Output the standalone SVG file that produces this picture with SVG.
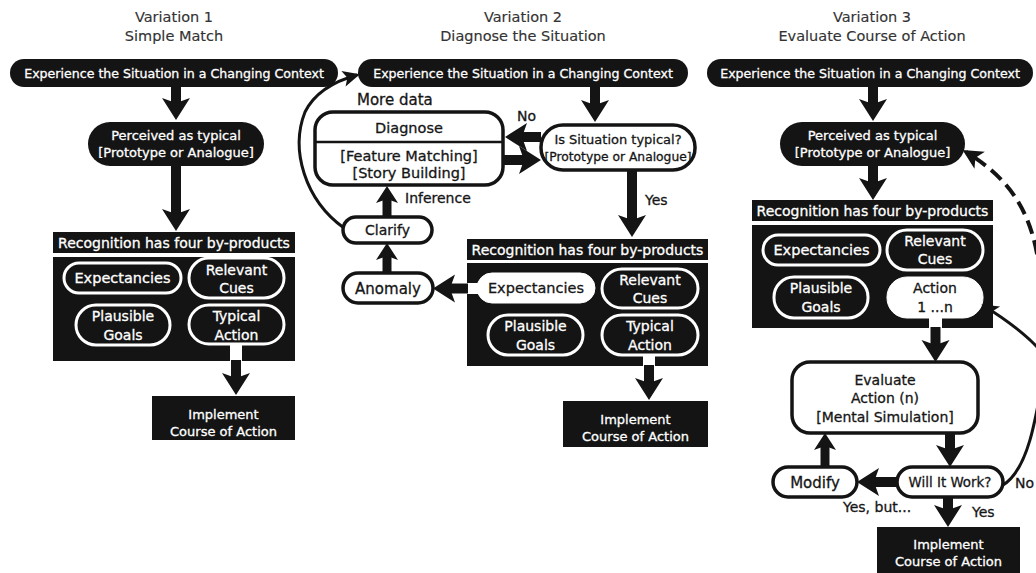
<svg xmlns="http://www.w3.org/2000/svg" width="1036" height="573" viewBox="0 0 1036 573">
<style>
text{font-family:"DejaVu Sans","Liberation Sans",sans-serif;font-size:13px;text-anchor:middle;fill:#161616;stroke:#161616;stroke-width:0.3}
.lbl{font-size:14px;text-anchor:start}
.m{font-size:14px}
.x{font-size:14.5px}
.xl{font-size:15px}
.e{font-size:12.6px}
.ttl{font-size:14.5px;fill:#333;stroke:#333;stroke-width:0.15}
.wt{fill:#fff;stroke:#fff}
.blk{fill:#141414}
.wp{fill:#141414;stroke:#fff;stroke-width:3}
.wf{fill:#fff;stroke:#fff;stroke-width:1}
.bp{fill:#fff;stroke:#141414;stroke-width:3.5}
.sh{stroke:#141414;stroke-width:10;fill:none;marker-end:url(#ah)}
.ss{stroke:#141414;stroke-width:9;fill:none;marker-end:url(#as)}
.th{stroke:#141414;stroke-width:3;fill:none;marker-end:url(#at)}
.dash{stroke:#141414;stroke-width:4;fill:none;stroke-dasharray:14 7;marker-end:url(#at2)}
</style>
<defs>
<marker id="ah" markerUnits="userSpaceOnUse" markerWidth="30" markerHeight="30" viewBox="0 -15 30 30" refX="7" refY="0" orient="auto" overflow="visible"><path d="M0,-14 L22,0 L0,14 L5,0 Z" fill="#141414"/></marker>
<marker id="as" markerUnits="userSpaceOnUse" markerWidth="24" markerHeight="24" viewBox="0 -12 24 24" refX="6" refY="0" orient="auto" overflow="visible"><path d="M0,-11 L17,0 L0,11 L4,0 Z" fill="#141414"/></marker>
<marker id="at" markerUnits="userSpaceOnUse" markerWidth="20" markerHeight="20" viewBox="0 -10 20 20" refX="14" refY="0" orient="auto" overflow="visible"><path d="M0,-8 L17,0 L0,8 L4,0 Z" fill="#141414"/></marker>
<marker id="at2" markerUnits="userSpaceOnUse" markerWidth="24" markerHeight="24" viewBox="0 -12 24 24" refX="16" refY="0" orient="auto" overflow="visible"><path d="M0,-10 L20,0 L0,10 L5,0 Z" fill="#141414"/></marker>
</defs>

<!-- Titles -->
<g id="titles">
<text class="ttl" x="174" y="22">Variation 1</text>
<text class="ttl" x="174" y="41">Simple Match</text>
<text class="ttl" x="523" y="22">Variation 2</text>
<text class="ttl" x="523" y="41">Diagnose the Situation</text>
<text class="ttl" x="872" y="22">Variation 3</text>
<text class="ttl" x="872" y="41">Evaluate Course of Action</text>
</g>

<!-- Variation 1 -->
<g id="v1-experience"><rect class="blk" x="10" y="59" width="328" height="28" rx="14"/><text class="wt e" x="174" y="78">Experience the Situation in a Changing Context</text></g>
<g id="v1-perceived"><rect class="blk" x="88" y="122" width="176" height="44" rx="22"/><text class="wt" x="176" y="140">Perceived as typical</text><text class="wt" x="176" y="157">[Prototype or Analogue]</text></g>
<g id="v1-recognition">
<rect class="blk" x="53" y="232" width="242" height="21"/><text class="wt m" x="174" y="248">Recognition has four by-products</text>
<rect class="blk" x="53" y="257" width="242" height="104"/>
</g>
<g id="v1-expectancies"><rect class="wp" x="64" y="263" width="117" height="30" rx="15"/><text class="wt x" x="122.5" y="283">Expectancies</text></g>
<g id="v1-cues"><rect class="wp" x="189" y="258" width="95" height="40" rx="20"/><text class="wt m" x="236.5" y="275">Relevant</text><text class="wt m" x="236.5" y="293">Cues</text></g>
<g id="v1-goals"><rect class="wp" x="76" y="305" width="94" height="40" rx="20"/><text class="wt m" x="123" y="321">Plausible</text><text class="wt m" x="123" y="340">Goals</text></g>
<g id="v1-action"><rect class="wp" x="189" y="305" width="95" height="39" rx="20"/><rect x="230" y="343" width="12" height="18" fill="#fff"/><text class="wt m" x="236.5" y="321">Typical</text><text class="wt m" x="236.5" y="340">Action</text></g>
<g id="v1-implement"><rect class="blk" x="152" y="396" width="143" height="44"/><text class="wt" x="223.5" y="419">Implement</text><text class="wt" x="223.5" y="436">Course of Action</text></g>

<!-- Variation 2 -->
<g id="v2-experience"><rect class="blk" x="358" y="59" width="330" height="28" rx="14"/><text class="wt e" x="523" y="78">Experience the Situation in a Changing Context</text></g>
<g id="v2-typical"><rect class="bp" x="541" y="125" width="154" height="45" rx="22"/><text x="618" y="144">Is Situation typical?</text><text x="618" y="161" style="font-size:12.3px">[Prototype or Analogue]</text></g>
<g id="v2-diagnose"><rect class="bp" x="315" y="112" width="188" height="73" rx="18"/><line x1="316" y1="142" x2="502" y2="142" stroke="#141414" stroke-width="2.5"/><text class="x" x="409" y="133">Diagnose</text><text class="x" x="409" y="161">[Feature Matching]</text><text class="x" x="409" y="178">[Story Building]</text></g>
<g id="v2-recognition">
<rect class="blk" x="467" y="239" width="241" height="21"/><text class="wt m" x="587.5" y="255">Recognition has four by-products</text>
<rect class="blk" x="467" y="263" width="241" height="103"/>
</g>
<g id="v2-expectancies"><rect x="465" y="283" width="20" height="11" fill="#fff"/><rect class="wf" x="477" y="273" width="118" height="30" rx="15"/><text class="x" x="536" y="293">Expectancies</text></g>
<g id="v2-cues"><rect class="wp" x="602" y="269" width="96" height="39" rx="20"/><text class="wt m" x="650" y="285">Relevant</text><text class="wt m" x="650" y="303">Cues</text></g>
<g id="v2-goals"><rect class="wp" x="488" y="315" width="95" height="40" rx="20"/><text class="wt m" x="535.5" y="331">Plausible</text><text class="wt m" x="535.5" y="350">Goals</text></g>
<g id="v2-action"><rect class="wp" x="602" y="315" width="96" height="40" rx="20"/><rect x="643" y="354" width="12" height="12" fill="#fff"/><text class="wt m" x="650" y="331">Typical</text><text class="wt m" x="650" y="350">Action</text></g>
<g id="v2-implement"><rect class="blk" x="563" y="401" width="145" height="46"/><text class="wt" x="635.5" y="424">Implement</text><text class="wt" x="635.5" y="441">Course of Action</text></g>
<g id="v2-anomaly"><rect class="bp" x="343" y="273" width="90" height="30" rx="15"/><text class="xl" x="388" y="294">Anomaly</text></g>
<g id="v2-clarify"><rect class="bp" x="343" y="217" width="89" height="26" rx="13"/><text class="m" x="387.5" y="235">Clarify</text></g>

<!-- Variation 3 -->
<g id="v3-experience"><rect class="blk" x="707" y="59" width="326" height="28" rx="14"/><text class="wt e" x="870" y="78">Experience the Situation in a Changing Context</text></g>
<g id="v3-perceived"><rect class="blk" x="780" y="122" width="185" height="44" rx="22"/><text class="wt" x="872.5" y="140">Perceived as typical</text><text class="wt" x="872.5" y="157">[Prototype or Analogue]</text></g>
<g id="v3-recognition">
<rect class="blk" x="752" y="200" width="241" height="21"/><text class="wt m" x="872.5" y="216">Recognition has four by-products</text>
<rect class="blk" x="752" y="225" width="241" height="103"/>
</g>
<g id="v3-expectancies"><rect class="wp" x="763" y="235" width="117" height="30" rx="15"/><text class="wt x" x="821.5" y="255">Expectancies</text></g>
<g id="v3-cues"><rect class="wp" x="887" y="230" width="96" height="40" rx="20"/><text class="wt m" x="935" y="246">Relevant</text><text class="wt m" x="935" y="264">Cues</text></g>
<g id="v3-goals"><rect class="wp" x="774" y="277" width="94" height="41" rx="20"/><text class="wt m" x="821" y="293">Plausible</text><text class="wt m" x="821" y="312">Goals</text></g>
<g id="v3-action"><rect class="wf" x="887" y="277" width="96" height="41" rx="20"/><rect x="929" y="317" width="13" height="11" fill="#fff"/><text class="m" x="935" y="293">Action</text><text class="m" x="935" y="312">1 ...n</text></g>
<g id="v3-evaluate"><rect class="bp" x="792" y="362" width="186" height="71" rx="18"/><text class="m" x="885" y="385">Evaluate</text><text class="m" x="885" y="403">Action (n)</text><text class="m" x="885" y="422">[Mental Simulation]</text></g>
<g id="v3-work"><rect class="bp" x="897" y="467" width="106" height="30" rx="15"/><text x="950" y="487" style="font-size:13.4px">Will It Work?</text></g>
<g id="v3-modify"><rect class="bp" x="773" y="467" width="84" height="30" rx="15"/><text class="xl" x="815" y="488">Modify</text></g>
<g id="v3-implement"><rect class="blk" x="877" y="527" width="143" height="46"/><text class="wt" x="948.5" y="549">Implement</text><text class="wt" x="948.5" y="566">Course of Action</text></g>

<!-- Connectors -->
<g id="connectors">
<line class="sh" x1="176" y1="87" x2="176" y2="105"/>
<line class="sh" x1="176" y1="166" x2="176" y2="216"/>
<line class="sh" x1="236" y1="360" x2="236" y2="380" stroke-width="12"/>

<line class="sh" x1="595" y1="87" x2="595" y2="107"/>
<line class="sh" x1="541" y1="137" x2="520" y2="137"/>
<line class="sh" x1="503" y1="160" x2="526" y2="160"/>
<line class="sh" x1="632" y1="170" x2="632" y2="222"/>
<line class="sh" x1="649" y1="365" x2="649" y2="385" stroke-width="12"/>
<line class="sh" x1="468" y1="288.5" x2="448" y2="288.5" stroke-width="11"/>
<line class="ss" x1="387" y1="273" x2="387" y2="254"/>
<line class="ss" x1="387" y1="217" x2="387" y2="197"/>
<path class="th" d="M344,228 C305,200 290,150 305,112 C315,92 335,81 357,75"/>

<line class="sh" x1="873" y1="87" x2="873" y2="106"/>
<line class="sh" x1="873" y1="166" x2="873" y2="185"/>
<line class="sh" x1="935.5" y1="327" x2="935.5" y2="347" stroke-width="12"/>
<line class="sh" x1="950" y1="433" x2="950" y2="452"/>
<line class="sh" x1="897" y1="482" x2="872" y2="482"/>
<line class="ss" x1="825" y1="467" x2="825" y2="444"/>
<line class="sh" x1="948" y1="497" x2="948" y2="512"/>
<path class="th" d="M1003,485 C1028,470 1036,420 1046,360 C1040,345 1010,322 984,306"/>
<path class="dash" d="M1040,275 C1034,215 1012,180 966,152"/>

<text class="lbl xl" x="357" y="105">More data</text>
<text class="lbl" x="517" y="121">No</text>
<text class="lbl" x="405" y="203">Inference</text>
<text class="lbl" x="645" y="205">Yes</text>
<text class="lbl" x="843" y="512">Yes, but...</text>
<text class="lbl" x="972" y="517">Yes</text>
<text class="lbl" x="1015" y="488">No</text>
</g>
</svg>
